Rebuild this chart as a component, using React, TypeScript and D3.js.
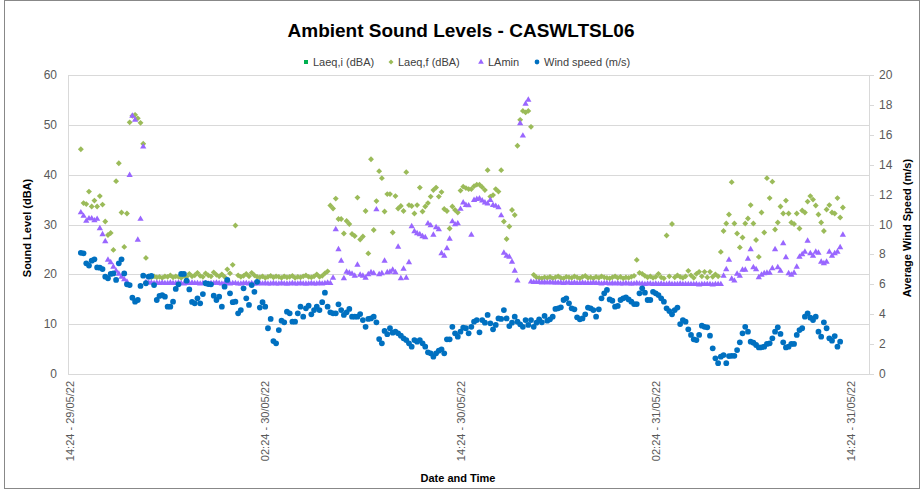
import * as d3 from "d3";

// 10-minute logging, first record 29/05/22 15:04
const startTime = new Date(2022, 4, 29, 15, 4);
const stepMinutes = 10;

const axisStart = new Date(2022, 4, 29, 14, 24);
const axisEnd = new Date(2022, 4, 31, 14, 24);
const xTickTimes = [
  new Date(2022, 4, 29, 14, 24),
  new Date(2022, 4, 30, 2, 24),
  new Date(2022, 4, 30, 14, 24),
  new Date(2022, 4, 31, 2, 24),
  new Date(2022, 4, 31, 14, 24),
];
const xTickLabels = ["14:24 - 29/05/22", "02:24 - 30/05/22", "14:24 - 30/05/22", "02:24 - 31/05/22", "14:24 - 31/05/22"];
const leftTicks = [0, 10, 20, 30, 40, 50, 60];
const rightTicks = [0, 2, 4, 6, 8, 10, 12, 14, 16, 18, 20];

const seriesNames = ["Laeq,i (dBA)", "Laeq,f (dBA)", "LAmin", "Wind speed (m/s)"];

// Laeq,i has no visible points in the chart
const laeqI: number[] = [];

const laeqF = [
  45.1, 34.3, 34.1, 36.6, 33.6, 34.8, 33.6, 35.7, 34.0, 30.6, 27.9, 28.3, 24.9, 38.7, 42.3, 32.4, 25.5, 32.2, 50.5, 51.8,
  52.0, 51.3, 50.4, 46.2, 23.3, 19.6, 19.4,
  19.6, 19.4, 19.5, 19.3, 19.6, 19.5, 19.8, 19.4, 19.6, 19.5, 19.3, 19.7, 19.5, 20.1, 19.6, 19.8, 20.3, 19.7, 19.5, 20.2,
  19.8, 19.6, 20.4, 19.9, 19.6, 20.0, 19.5,
  21.0, 20.2, 21.9, 29.8, 19.8,
  19.5, 19.7, 20.1, 19.6, 20.3, 19.8, 19.5, 19.4, 19.6, 19.3, 19.5, 19.7, 19.4, 19.6, 19.5, 19.3, 19.6, 19.4, 19.5, 19.7,
  19.3, 19.5, 19.4, 19.6, 19.8, 19.5, 19.4, 19.6, 20.0, 19.5, 19.7, 20.2, 20.6,
  33.8, 33.2, 35.2, 31.1, 31.1, 28.2, 30.7, 30.1, 28.1, 27.7, 35.4, 27.0, 27.6, 32.7, 24.2, 43.1, 28.9, 34.7, 40.7, 39.3,
  32.6, 36.1, 36.1, 28.4, 35.7, 33.2, 33.7, 32.7, 40.5, 33.9, 33.7, 32.2, 33.9, 37.4, 32.6, 33.6, 34.3, 35.6, 36.9, 37.4,
  35.6, 36.5, 33.1, 32.7, 29.2, 33.6, 32.9, 32.4, 36.8, 37.6, 37.3, 37.1, 37.1, 37.7, 38.0, 38.0, 37.5, 36.9, 40.9, 35.6,
  35.9, 37.1, 36.6, 40.9, 30.6, 27.1, 29.6, 32.9, 31.9, 45.8, 51.0, 52.8, 52.5, 52.8, 49.6,
  19.9, 19.4, 19.3, 19.2, 19.4, 19.3, 19.5, 19.2, 19.4, 19.6, 19.3, 19.2, 19.5, 19.4, 19.3, 19.6, 19.4, 19.2, 19.5, 19.7,
  19.3, 19.4, 19.2, 19.5, 19.3, 19.6, 19.4, 19.3, 19.2, 19.4, 19.6, 19.3, 19.5, 19.2, 19.4, 19.3, 19.5, 19.7,
  22.9, 20.3, 20.1, 19.7, 19.4, 19.6, 19.3, 19.5, 20.1, 19.4, 19.2, 27.8, 19.6, 30.1, 19.4, 19.8, 19.5, 19.3, 19.6, 20.7,
  19.8, 19.3, 20.1, 20.5, 19.6, 20.5, 19.4, 20.5, 19.5, 20.0, 19.6,
  24.5, 28.7, 30.2, 32.0, 38.5, 30.2, 28.2, 25.4, 27.4, 30.2, 31.2, 33.9, 30.2, 26.9, 23.5, 32.4, 28.4, 39.3, 35.3, 38.6,
  29.0, 30.4, 33.6, 32.2, 34.8, 32.2, 30.4, 30.1, 32.2, 29.2, 32.8, 32.4, 34.6, 35.7, 35.0, 33.8, 32.0, 30.4, 28.7, 33.0,
  33.9, 32.4, 32.2, 35.3, 31.4, 33.4,
];

const laMin = [
  32.4, 31.7, 30.7, 31.2, 31.2, 30.8, 31.1, 29.2, 28.0, 26.6, 22.9, 22.4, 21.5, 20.7, 20.1, 19.5, 19.0, 18.5, 39.9, 51.8,
  51.0, 26.9, 31.1, 45.6,
  18.4, 18.3, 18.3, 18.2, 18.3, 18.2, 18.3, 18.2, 18.2, 18.3, 18.2, 18.2, 18.3, 18.2, 18.1, 18.2, 18.2, 18.3, 18.2, 18.2,
  18.1, 18.2, 18.2, 18.1, 18.2, 18.2, 18.3, 18.2, 18.1, 18.2, 18.2, 18.1, 18.2, 18.2, 18.1, 18.1, 18.2, 18.2, 18.1, 18.2,
  18.1, 18.1, 18.2, 18.1, 18.2, 18.1, 18.1, 18.2, 18.1, 18.1, 18.2, 18.1, 18.1, 18.1, 18.2, 18.1, 18.1, 18.2, 18.1, 18.1,
  18.1, 18.2, 18.1, 18.1, 18.2, 18.1, 18.2, 18.3, 18.2, 19.3,
  29.0, 25.0, 22.7, 19.2, 20.5, 20.3, 20.1, 19.7, 21.9, 19.9, 19.7, 19.3, 20.0, 20.4, 20.2, 33.0, 20.0, 20.2, 22.7, 20.4,
  20.5, 20.9, 20.4, 25.5, 19.2, 21.1, 19.3, 22.4, 29.6, 28.6, 28.2, 28.0, 27.6, 27.4, 30.2, 29.8, 27.9, 29.4, 29.0, 24.2,
  23.7, 25.2, 27.1, 30.6, 30.0, 30.2, 33.1, 34.4, 33.9, 33.8, 27.9, 34.9, 35.1, 35.2, 34.8, 34.4, 34.2, 34.9, 33.9, 33.7,
  33.4, 31.8, 24.3, 23.7, 23.5, 22.5, 20.7, 18.7, 50.3, 47.8, 54.2, 55.0,
  18.5, 18.4, 18.4, 18.4, 18.3, 18.4, 18.3, 18.4, 18.3, 18.3, 18.3, 18.3, 18.2, 18.3, 18.3, 18.2, 18.3, 18.2, 18.2, 18.3,
  18.2, 18.2, 18.2, 18.3, 18.2, 18.2, 18.1, 18.2, 18.2, 18.1, 18.2, 18.1, 18.2, 18.1, 18.1, 18.2, 18.1, 18.1, 18.1, 18.2,
  18.1, 18.1, 18.0, 18.1, 18.1, 18.0, 18.1, 18.0, 18.1, 18.0, 18.0, 18.1, 18.0, 18.0, 18.0, 18.1, 18.0, 18.0, 18.0, 18.0,
  18.0, 18.0, 17.9, 18.0, 18.0, 18.0, 18.0, 17.9, 18.0, 18.0, 18.0,
  19.7, 21.0, 22.9, 19.1, 18.7, 20.1, 19.7, 20.9, 20.9, 23.1, 25.0, 21.4, 21.0, 19.4, 19.9, 20.2, 20.3, 20.3, 21.2, 25.0,
  21.4, 20.7, 26.2, 23.4, 20.2, 19.9, 20.3, 21.5, 23.5, 24.0, 24.5, 26.7, 24.2, 23.7, 24.5, 24.3, 22.5, 22.2, 22.5, 24.5,
  23.7, 24.2, 24.5, 25.4, 27.9,
];

const windSpeed = [
  8.11, 8.07, 7.4, 7.25, 7.58, 7.67, 7.13, 7.11, 7.02, 6.51, 6.4, 6.69, 6.73, 6.29, 7.4, 7.67, 6.73, 6.0, 5.95, 5.1,
  4.84, 4.95, 5.89, 6.58, 6.07, 6.51, 6.56, 5.95, 4.95, 5.22, 5.28, 5.17, 4.5, 4.5, 4.84, 5.69, 6.0, 6.69, 6.69, 6.24,
  5.66, 4.82, 4.73, 5.06, 4.73, 5.35, 6.07, 6.02, 6.0, 5.24, 4.95, 5.17, 4.5, 5.84, 6.29, 5.4, 4.8, 4.84, 4.06, 4.28,
  5.73, 5.06, 4.62, 5.95, 5.5, 6.17, 4.44, 4.8, 4.5, 3.06, 3.68, 2.2, 2.05, 2.94, 3.57, 3.46, 4.17, 4.06, 3.5, 3.5,
  4.06, 4.5, 3.83, 4.39, 4.57, 3.99, 4.28, 4.5, 4.28, 4.8, 5.44, 4.5, 4.13, 4.06, 4.06, 4.66, 4.28, 3.95, 4.13, 4.35,
  3.83, 3.83, 3.83, 4.01, 3.61, 3.16, 3.68, 3.72, 3.83, 3.46, 2.34, 2.05, 2.88, 2.66, 3.06, 2.76, 2.83, 2.72, 2.56, 2.39,
  2.27, 2.05, 1.83, 2.27, 2.16, 2.27, 2.05, 1.83, 1.45, 1.38, 1.16, 1.38, 1.56, 1.65, 1.38, 2.32, 2.32, 3.16, 2.72, 2.5,
  2.83, 3.1, 3.06, 2.72, 3.16, 3.5, 3.61, 2.79, 3.61, 3.43, 3.95, 3.39, 2.99, 3.28, 3.72, 3.68, 4.28, 3.72, 3.21, 3.43,
  3.83, 3.5, 3.32, 3.16, 3.61, 3.28, 3.61, 3.16, 3.43, 3.66, 3.46, 3.88, 3.57, 3.66, 3.83, 4.35, 4.39, 4.46, 4.95, 5.06,
  4.73, 4.39, 4.33, 3.79, 3.66, 3.72, 3.99, 4.44, 4.39, 4.28, 3.83, 4.33, 5.06, 5.4, 5.62, 4.99, 4.9, 4.5, 4.55, 4.95,
  5.06, 5.13, 4.99, 4.84, 4.68, 4.68, 5.4, 5.73, 5.44, 4.95, 4.95, 5.5, 5.4, 5.28, 5.06, 4.84, 4.39, 4.21, 3.99, 4.28,
  4.44, 3.34, 3.61, 3.5, 2.99, 2.61, 2.32, 2.27, 2.61, 3.23, 3.16, 3.12, 2.56, 1.72, 1.05, 0.72, 1.16, 1.27, 0.72, 1.2,
  1.22, 1.22, 1.6, 2.12, 2.72, 3.16, 2.83, 2.16, 2.09, 1.94, 1.78, 1.78, 1.83, 2.01, 2.05, 2.39, 2.83, 3.12, 2.68, 2.12,
  1.78, 1.83, 2.01, 2.01, 2.61, 2.94, 3.06, 3.83, 4.06, 3.77, 3.61, 3.83, 2.83, 2.5, 3.46, 3.06, 2.39, 2.23, 2.54, 1.83,
  2.16,
];

const colors = {
  laeqI: "#00B050",
  laeqF: "#9BBB59",
  laMin: "#9966FF",
  wind: "#0070C0",
};

const W = 921;
const H = 491;
const plot = { left: 68, right: 869, top: 75, bottom: 374 };
const FONT = "'Liberation Sans', Arial, sans-serif";

const timeAt = (i: number) => d3.timeMinute.offset(startTime, i * stepMinutes);

const x = d3.scaleTime().domain([axisStart, axisEnd]).range([70, 851]);
const yLeft = d3.scaleLinear().domain([0, 60]).range([plot.bottom, plot.top]);
const yRight = d3.scaleLinear().domain([0, 20]).range([plot.bottom, plot.top]);

const diamondType = (d3 as any).symbolDiamond2 || d3.symbolDiamond;
const diamond = d3.symbol().type(diamondType).size(22)() as string;
const triangle = d3.symbol().type(d3.symbolTriangle).size(17)() as string;
const square = d3.symbol().type(d3.symbolSquare).size(20)() as string;
const circle = d3.symbol().type(d3.symbolCircle).size(26)() as string;

const legendItems = [
  { name: seriesNames[0], path: d3.symbol().type(d3.symbolSquare).size(16)() as string, color: colors.laeqI, x: 306 },
  { name: seriesNames[1], path: d3.symbol().type(diamondType).size(16)() as string, color: colors.laeqF, x: 391 },
  { name: seriesNames[2], path: d3.symbol().type(d3.symbolTriangle).size(14)() as string, color: colors.laMin, x: 481 },
  { name: seriesNames[3], path: d3.symbol().type(d3.symbolCircle).size(18)() as string, color: colors.wind, x: 537 },
];

function Markers({ values, scale, path, color }: { values: number[]; scale: d3.ScaleLinear<number, number>; path: string; color: string }) {
  return (
    <g fill={color}>
      {values.map((v, i) => (
        <path key={i} d={path} transform={`translate(${x(timeAt(i)).toFixed(2)},${scale(v).toFixed(2)})`} />
      ))}
    </g>
  );
}

export default function App() {
  return (
    <div style={{ position: "absolute", left: 0, top: 0, width: W, height: H, background: "#fff" }}>
      <svg width={W} height={H} style={{ display: "block", fontFamily: FONT }}>
        <rect x={0} y={0} width={W} height={H} fill="#fff" />
        <rect x={4.5} y={0.5} width={W - 6} height={H - 3} fill="none" stroke="#888" strokeWidth={1} />

        <text x={461} y={37} textAnchor="middle" fontSize={19} fontWeight="bold" fill="#000">
          Ambient Sound Levels - CASWLTSL06
        </text>

        {/* legend */}
        <g fontSize={11} fill="#404040">
          {legendItems.map((d) => (
            <g key={d.name} transform={`translate(${d.x},62)`}>
              <path d={d.path} fill={d.color} />
              <text x={7} y={4} fill="#404040">{d.name}</text>
            </g>
          ))}
        </g>

        {/* gridlines */}
        <g stroke="#D9D9D9" strokeWidth={1}>
          {leftTicks.map((t) => (
            <line key={t} x1={plot.left} x2={plot.right} y1={Math.round(yLeft(t)) + 0.5} y2={Math.round(yLeft(t)) + 0.5} />
          ))}
          <line x1={plot.left + 0.5} x2={plot.left + 0.5} y1={plot.top} y2={plot.bottom} />
          <line x1={plot.right + 0.5} x2={plot.right + 0.5} y1={plot.top} y2={plot.bottom} />
        </g>
        {rightTicks.map((t) => (
          <line key={t} x1={plot.right} x2={plot.right + 5} y1={Math.round(yRight(t)) + 0.5} y2={Math.round(yRight(t)) + 0.5} stroke="#D9D9D9" />
        ))}

        {/* left axis labels */}
        <g fontSize={12} fill="#595959" textAnchor="end">
          {leftTicks.map((t) => (
            <text key={t} x={57} y={yLeft(t) + 4}>{t}</text>
          ))}
        </g>
        {/* right axis labels */}
        <g fontSize={12} fill="#595959">
          {rightTicks.map((t) => (
            <text key={t} x={879} y={yRight(t) + 4}>{t}</text>
          ))}
        </g>
        {/* x axis labels */}
        <g fontSize={11} fill="#595959">
          {xTickTimes.map((t, i) => (
            <text key={i} transform={`translate(${x(t) + 4},381) rotate(-90)`} textAnchor="end">
              {xTickLabels[i]}
            </text>
          ))}
        </g>

        {/* axis titles */}
        <text transform="translate(31,228) rotate(-90)" textAnchor="middle" fontSize={11} fontWeight="bold" fill="#000">
          Sound Level (dBA)
        </text>
        <text transform="translate(911,228) rotate(-90)" textAnchor="middle" fontSize={11} fontWeight="bold" fill="#000">
          Average Wind Speed (m/s)
        </text>
        <text x={458} y={482} textAnchor="middle" fontSize={11} fontWeight="bold" fill="#000">
          Date and Time
        </text>

        {/* series */}
        <Markers values={laeqI} scale={yLeft} path={square} color={colors.laeqI} />
        <Markers values={laeqF} scale={yLeft} path={diamond} color={colors.laeqF} />
        <Markers values={laMin} scale={yLeft} path={triangle} color={colors.laMin} />
        <Markers values={windSpeed} scale={yRight} path={circle} color={colors.wind} />
      </svg>
    </div>
  );
}
